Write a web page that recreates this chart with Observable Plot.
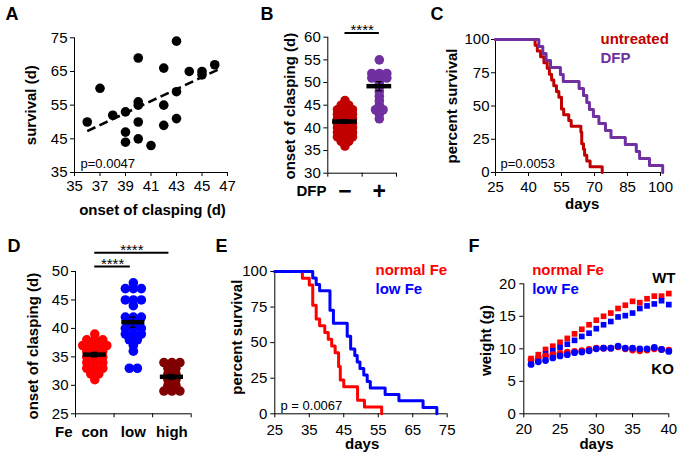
<!DOCTYPE html>
<html>
<head>
<meta charset="utf-8">
<script src="https://cdn.jsdelivr.net/npm/d3@7"></script>
<script src="https://cdn.jsdelivr.net/npm/@observablehq/plot@0.6"></script>
<style>
html,body{margin:0;padding:0;background:#fff;}
#fig{position:relative;width:680px;height:457px;overflow:hidden;background:#fff;font-family:"Liberation Sans",Arial,sans-serif;}
#fig svg{position:absolute;overflow:visible;max-width:none;}
</style>
</head>
<body>
<div id="fig"></div>
<script>
// ================= DATA =================
// Panel A: survival vs onset of clasping
const aOnset    = [36,37,38,39,39,39,40,40,40,40,40,41,42,42,42,43,43,43,44,45,45,46];
const aSurvival = [50,60,52,53,47,44,69,56,55,50,45,43,66,55,49,74,59,51,65,65,64,67];
const aFitOnset = [36,46.4];
const aFitSurvival = [47.3,65.8];
const aXTicks = [35,37,39,41,43,45,47];
const aYTicks = [35,45,55,65,75];

// Panel B: onset of clasping, untreated vs DFP
const bGroups = ["\u2212","+"];
const bUntreated = [36,37,37,38,38,38,39,39,39,40,40,40,41,41,41,42,42,42,43,43,43,44,44,44,45,45,46];
const bDFP = [42,43,44,44,45,46,47,48,49,50,51,51,51,52,52,52,55];
const bMeans = [41.4,49.2];
const bSem = [0.4,1.0];
const bSig = [{from:0,to:1,y:60.9,label:"****"}];
const bYTicks = [30,35,40,45,50,55,60];

// Panel C: Kaplan-Meier, untreated vs DFP
const cUntreatedDays = [25,43,44,45.5,47,48.5,49.5,50.5,51.5,52.7,53.8,55,56,58.3,59.4,63.8,64.2,65,65.5,66.5,68,73.5];
const cUntreatedSurv = [100,95.7,91.3,87,82.6,78.3,73.9,69.6,65.2,60.9,56.5,47.8,43.5,39.1,34.8,30.4,21.7,17.4,13,8.7,4.3,0];
const cDfpDays = [25,44.7,46.5,48,50,54.5,55.8,63,65,66.5,67.7,69.5,72,75,77.5,84,89,90.5,95,101];
const cDfpSurv = [100,94.7,89.5,84.2,78.9,73.7,68.4,63.2,57.9,52.6,47.4,42.1,36.8,31.6,26.3,21.1,15.8,10.5,5.3,0];
const cXTicks = [25,40,55,70,85,100];
const cYTicks = [0,25,50,75,100];

// Panel D: onset of clasping by dietary iron
const dGroups = ["con","low","high"];
const dCon  = [31,32,32,33,33,33,34,34,34,35,35,35,36,36,36,37,37,37,37,38,38,38,39];
const dLow  = [33,33,36,37,38,38,39,39,39,40,40,40,41,41,42,42,42,44,45,45,45,47,47,47,48];
const dHigh = [29,29,29,30,30,31,31,32,32,33,33,34,34,34];
const dMeans = [35.4,41.1,31.5];
const dSem = [0.4,0.9,0.4];
const dSig = [{from:0,to:1,y:50.9,label:"****"},{from:0,to:2,y:53.3,label:"****"}];
const dYTicks = [25,30,35,40,45,50];

// Panel E: Kaplan-Meier, normal vs low Fe
const eNormalDays = [25,33,35,36,37,38,39.5,40.5,41.5,42.5,43.5,44,45,49,51,56];
const eNormalSurv = [100,95.2,90.5,76.2,66.7,61.9,57.1,52.4,47.6,42.9,33.3,23.8,19,9.5,4.8,0];
const eLowDays = [25,36,37,38,41,42,46,47,48.2,48.9,49.7,50.8,51.8,52.7,57,61,68,72];
const eLowSurv = [100,95.5,90.9,86.4,72.7,63.6,54.5,45.5,40.9,36.4,31.8,27.3,22.7,18.2,13.6,9.1,4.5,0];
const eXTicks = [25,35,45,55,65,75];
const eYTicks = [0,25,50,75,100];

// Panel F: weight curves
const fDays = [21,22,23,24,25,26,27,28,29,30,31,32,33,34,35,36,37,38,39,40];
const fWtNormal = [8.5,9.1,9.9,10.4,11.0,11.6,12.3,13.0,13.7,14.4,15.0,15.5,16.2,16.7,17.3,17.1,17.7,18.1,18.1,18.5];
const fWtLow    = [7.8,8.2,9.2,9.7,10.2,10.7,11.3,11.9,12.4,13.1,13.7,14.2,14.9,15.1,15.5,16.2,16.6,16.9,17.4,16.8];
const fKoNormal = [8.3,8.6,8.9,9.1,9.3,9.5,9.6,9.7,9.9,10.1,10.1,10.1,10.3,10.0,9.8,9.7,9.8,10.0,9.9,9.8];
const fKoLow    = [7.6,8.0,8.2,8.6,8.9,9.1,9.4,9.5,9.7,10.0,10.1,10.1,10.4,10.1,10.1,10.0,10.0,10.2,9.9,9.6];
const fXTicks = [20,25,30,35,40];
const fYTicks = [0,5,10,15,20];

// ================= HELPERS =================
const FONT = "'Liberation Sans', Arial, Helvetica, sans-serif";
const fig = document.getElementById("fig");
function frame(g){
  return {width:g.W, height:g.H, marginLeft:g.L-g.sx, marginTop:g.T-g.sy,
          marginRight:g.sx+g.W-g.R, marginBottom:g.sy+g.H-g.B};
}
function note(g, text, ax, ay, o = {}) {
  return Plot.text([text], {text: d => d, frameAnchor: "top-left", dx: ax - g.L, dy: ay - g.T,
    textAnchor: "middle", lineAnchor: "middle", fontFamily: FONT, fontSize: 15, ...o});
}
function mount(svg, g) {
  Object.assign(svg.style, {position:"absolute", left:g.sx+"px", top:g.sy+"px", overflow:"visible",
    background:"transparent", fontFamily:FONT, fontSize:"15px", color:"#000", maxWidth:"none"});
  fig.appendChild(svg);
}
function swarm(values, group, spacing) {
  const counts = d3.rollup(values, v => v.length, d => d);
  const seen = new Map();
  return values.map(v => {
    const n = counts.get(v), i = seen.get(v) || 0;
    seen.set(v, i + 1);
    return {x: group + (i - (n - 1) / 2) * spacing, y: v};
  });
}
const zip = (xs, ys) => xs.map((x, i) => ({x, y: ys[i]}));
function summaryMarks(means, sems, half, cap) {
  const s = means.map((m, i) => ({i, m, lo: m - sems[i], hi: m + sems[i]}));
  return [
    Plot.ruleX(s, {x: "i", y1: "lo", y2: "hi", stroke: "#000", strokeWidth: 1.3}),
    Plot.ruleY(s, {y: "lo", x1: d => d.i - cap, x2: d => d.i + cap, stroke: "#000", strokeWidth: 1.3}),
    Plot.ruleY(s, {y: "hi", x1: d => d.i - cap, x2: d => d.i + cap, stroke: "#000", strokeWidth: 1.3}),
    Plot.ruleY(s, {y: "m", x1: d => d.i - half, x2: d => d.i + half, stroke: "#000", strokeWidth: 4.5})
  ];
}
const mid = g => (g.T + g.B) / 2;

// ================= PANEL A =================
const gA = {sx:0, sy:0, W:230, H:225, L:74, T:37.3, R:227, B:172};
mount(Plot.plot({
  ...frame(gA),
  x: {domain: [35, 47]}, y: {domain: [35, 75]},
  marks: [
    Plot.ruleX([35]), Plot.ruleY([35]),
    Plot.axisX(aXTicks, {tickSize: 4, tickPadding: 4, label: null}),
    Plot.axisY(aYTicks, {tickSize: 4, tickPadding: 3, label: null}),
    Plot.line(zip(aFitOnset, aFitSurvival), {x: "x", y: "y", stroke: "#000", strokeWidth: 2.6, strokeDasharray: "9,4.5", strokeLinecap: "butt"}),
    Plot.dot(zip(aOnset, aSurvival), {x: "x", y: "y", r: 4.8, fill: "#000"}),
    note(gA, "p=0.0047", 80, 163.3, {textAnchor: "start", fontSize: 13}),
    note(gA, "survival (d)", 30.5, mid(gA), {rotate: -90, fontWeight: "bold"}),
    note(gA, "onset of clasping (d)", 152, 210, {fontWeight: "bold"}),
    note(gA, "A", 5, 13.5, {textAnchor: "start", fontWeight: "bold", fontSize: 18})
  ]
}), gA);

// ================= PANEL B =================
const gB = {sx:230, sy:0, W:220, H:225, L:327.3, T:36.7, R:396, B:172.7};
mount(Plot.plot({
  ...frame(gB),
  x: {domain: [-0.5, 1.5]}, y: {domain: [30, 60]},
  marks: [
    Plot.ruleX([-0.5]), Plot.ruleY([30]),
    Plot.axisX([-0.5, 0.5, 1.5], {tickSize: 4, tickFormat: () => "", label: null}),
    Plot.axisY(bYTicks, {tickSize: 4, tickPadding: 3, label: null}),
    Plot.dot(swarm(bUntreated, 0, 0.218), {x: "x", y: "y", r: 4.8, fill: "#c00000"}),
    Plot.dot(swarm(bDFP, 1, 0.218), {x: "x", y: "y", r: 4.8, fill: "#7030a0"}),
    ...summaryMarks(bMeans, bSem, 0.36, 0.09),
    Plot.ruleY(bSig, {y: "y", x1: "from", x2: "to", stroke: "#000", strokeWidth: 2}),
    Plot.text(bSig, {x: d => (d.from + d.to) / 2, y: "y", text: "label", dy: -2.9, fontSize: 15}),
    Plot.text(bGroups, {x: (d, i) => i, text: d => d, frameAnchor: "bottom", lineAnchor: "middle", dy: 18, fontSize: 23, fontWeight: "bold"}),
    note(gB, "DFP", 326, 190.8, {textAnchor: "end", fontWeight: "bold"}),
    note(gB, "onset of clasping (d)", 289.8, mid(gB) + 1, {rotate: -90, fontWeight: "bold"}),
    note(gB, "B", 260, 13.5, {textAnchor: "start", fontWeight: "bold", fontSize: 18})
  ]
}), gB);

// ================= PANEL C =================
const gC = {sx:445, sy:0, W:235, H:225, L:495, T:39, R:660, B:172};
mount(Plot.plot({
  ...frame(gC),
  x: {domain: [25, 100]}, y: {domain: [0, 100]},
  marks: [
    Plot.ruleX([25]), Plot.ruleY([0]),
    Plot.axisX(cXTicks, {tickSize: 4, tickPadding: 5, label: null}),
    Plot.axisY(cYTicks, {tickSize: 4, tickPadding: 2, label: null}),
    Plot.line(zip(cUntreatedDays, cUntreatedSurv), {x: "x", y: "y", curve: "step-after", stroke: "#c00000", strokeWidth: 3}),
    Plot.line(zip(cDfpDays, cDfpSurv), {x: "x", y: "y", curve: "step-after", stroke: "#7030a0", strokeWidth: 3}),
    note(gC, "untreated", 600, 38.7, {textAnchor: "start", fontWeight: "bold", fill: "#c00000"}),
    note(gC, "DFP", 600, 57.3, {textAnchor: "start", fontWeight: "bold", fill: "#7030a0"}),
    note(gC, "p=0.0053", 500, 163.3, {textAnchor: "start", fontSize: 13}),
    note(gC, "percent survival", 451.5, mid(gC), {rotate: -90, fontWeight: "bold"}),
    note(gC, "days", 581.7, 203.5, {fontWeight: "bold"}),
    note(gC, "C", 430, 13.5, {textAnchor: "start", fontWeight: "bold", fontSize: 18})
  ]
}), gC);

// ================= PANEL D =================
const gD = {sx:0, sy:225, W:230, H:232, L:75, T:271, R:190.7, B:413.3};
mount(Plot.plot({
  ...frame(gD),
  x: {domain: [-0.5, 2.5]}, y: {domain: [25, 50]},
  marks: [
    Plot.ruleX([-0.5]), Plot.ruleY([25]),
    Plot.axisX([-0.5, 0.5, 1.5, 2.5], {tickSize: 4, tickFormat: () => "", label: null}),
    Plot.axisY(dYTicks, {tickSize: 4, tickPadding: 3, label: null}),
    Plot.dot(swarm(dCon, 0, 0.207), {x: "x", y: "y", r: 4.8, fill: "#ff0000"}),
    Plot.dot(swarm(dLow, 1, 0.207), {x: "x", y: "y", r: 4.8, fill: "#0000ff"}),
    Plot.dot(swarm(dHigh, 2, 0.207), {x: "x", y: "y", r: 4.8, fill: "#800000"}),
    ...summaryMarks(dMeans, dSem, 0.3, 0.08),
    Plot.ruleY(dSig, {y: "y", x1: "from", x2: "to", stroke: "#000", strokeWidth: 2, insetRight: 3}),
    Plot.text(dSig, {x: d => (d.from + d.to) / 2, y: "y", text: "label", dy: -2.2, dx: -1.5, fontSize: 15}),
    Plot.text(dGroups, {x: (d, i) => i, text: d => d, frameAnchor: "bottom", lineAnchor: "middle", dy: 18.7, fontWeight: "bold"}),
    note(gD, "Fe", 72, 432, {textAnchor: "end", fontWeight: "bold"}),
    note(gD, "onset of clasping (d)", 32.5, mid(gD) + 3.5, {rotate: -90, fontWeight: "bold"}),
    note(gD, "D", 7, 246, {textAnchor: "start", fontWeight: "bold", fontSize: 18})
  ]
}), gD);

// ================= PANEL E =================
const gE = {sx:230, sy:225, W:220, H:232, L:274.3, T:271, R:446.7, B:413.3};
mount(Plot.plot({
  ...frame(gE),
  x: {domain: [25, 75]}, y: {domain: [0, 100]},
  marks: [
    Plot.ruleX([25]), Plot.ruleY([0]),
    Plot.axisX(eXTicks, {tickSize: 4, tickPadding: 6.5, label: null}),
    Plot.axisY(eYTicks, {tickSize: 4, tickPadding: 3.5, label: null}),
    Plot.line(zip(eNormalDays, eNormalSurv), {x: "x", y: "y", curve: "step-after", stroke: "#ff0000", strokeWidth: 3}),
    Plot.line(zip(eLowDays, eLowSurv), {x: "x", y: "y", curve: "step-after", stroke: "#0000ff", strokeWidth: 3}),
    note(gE, "normal Fe", 375, 270, {textAnchor: "start", fontWeight: "bold", fill: "#ff0000"}),
    note(gE, "low Fe", 375, 288.3, {textAnchor: "start", fontWeight: "bold", fill: "#0000ff"}),
    note(gE, "p = 0.0067", 280, 405, {textAnchor: "start", fontSize: 13}),
    note(gE, "percent survival", 236.5, mid(gE) - 5.5, {rotate: -90, fontWeight: "bold"}),
    note(gE, "days", 361.7, 444, {fontWeight: "bold"}),
    note(gE, "E", 215, 246, {textAnchor: "start", fontWeight: "bold", fontSize: 18})
  ]
}), gE);

// ================= PANEL F =================
const gF = {sx:450, sy:225, W:230, H:232, L:523.3, T:283.3, R:668.3, B:413.3};
mount(Plot.plot({
  ...frame(gF),
  x: {domain: [20, 40]}, y: {domain: [0, 20]},
  marks: [
    Plot.ruleX([20]), Plot.ruleY([0]),
    Plot.axisX(fXTicks, {tickSize: 4, tickPadding: 5.5, label: null}),
    Plot.axisY(fYTicks, {tickSize: 4, tickPadding: 4, label: null}),
    Plot.dot(zip(fDays, fWtNormal), {x: "x", y: "y", symbol: "square", r: 3.2, fill: "#ff0000"}),
    Plot.dot(zip(fDays, fWtLow), {x: "x", y: "y", symbol: "square", r: 3.2, fill: "#0000ff"}),
    Plot.dot(zip(fDays, fKoNormal), {x: "x", y: "y", r: 3.4, fill: "#ff0000"}),
    Plot.dot(zip(fDays, fKoLow), {x: "x", y: "y", r: 3.4, fill: "#0000ff"}),
    note(gF, "normal Fe", 531.7, 270, {textAnchor: "start", fontWeight: "bold", fill: "#ff0000"}),
    note(gF, "low Fe", 531.7, 288.3, {textAnchor: "start", fontWeight: "bold", fill: "#0000ff"}),
    note(gF, "WT", 675, 277.3, {textAnchor: "end", fontWeight: "bold"}),
    note(gF, "KO", 673.3, 368.3, {textAnchor: "end", fontWeight: "bold"}),
    note(gF, "weight (g)", 485.5, mid(gF) - 8.3, {rotate: -90, fontWeight: "bold"}),
    note(gF, "days", 596, 444, {fontWeight: "bold"}),
    note(gF, "F", 468, 246, {textAnchor: "start", fontWeight: "bold", fontSize: 18})
  ]
}), gF);
</script>
</body>
</html>
